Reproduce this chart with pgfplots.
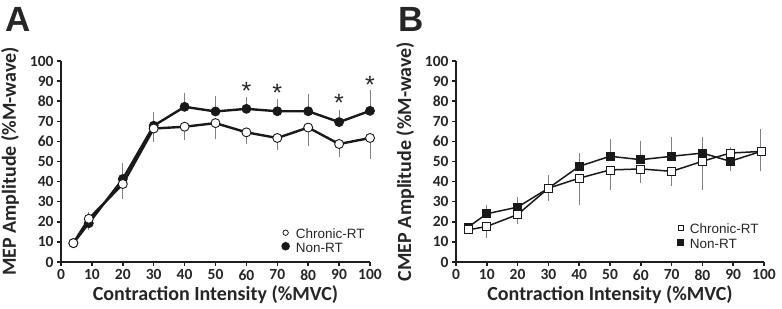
\documentclass[border=0pt]{standalone}
\usepackage{pgfplots}
\usepackage{pgfplotstable}
\pgfplotsset{compat=1.18}
\usepackage{fontspec}
\setmainfont{Carlito}
\newfontfamily\arial{Liberation Sans}

\pgfplotstableread{
x y e
4 9.4 0
9 21.5 5.8
20 38.8 7.7
30 66.4 6.9
40 67.3 6.6
50 69.1 7.9
60 64.5 5.8
70 61.7 6.0
80 66.9 9.0
90 58.7 6.3
100 61.7 10.5
}\chronA
\pgfplotstableread{
x y e
4 9.4 0
9 19.3 5.8
20 41.3 7.8
30 67.8 6.6
40 77.2 7.1
50 74.9 7.7
60 76.2 5.9
70 75.0 6.0
80 75.0 8.5
90 69.6 5.9
100 75.2 10.3
}\nonA
\pgfplotstableread{
x y e
4 16.0 0
10 17.7 5.6
20 23.6 4.9
30 36.7 6.6
40 41.7 13.1
50 45.8 9.9
60 46.3 7.1
70 45.1 7.1
80 50.1 14.2
89 54.2 9.1
99 55.0 9.9
}\chronB
\pgfplotstableread{
x y e
4 17.4 0
10 24.0 4.4
20 27.3 4.9
30 36.7 6.8
40 47.6 6.4
50 52.6 8.6
60 50.9 9.4
70 52.6 9.7
80 54.2 8.1
89 50.1 7.3
99 55.0 11.4
}\nonB

\colorlet{txt}{black!85}
\tikzset{starnode/.style={font=\arial\fontsize{25}{25}\selectfont, text=txt, inner sep=0pt}}
\pgfplotsset{
  panel/.style={
    scale only axis, height=201pt,
    xmin=0, xmax=100, ymin=0, ymax=100,
    xtick={0,10,...,100}, ytick={0,10,...,100},
    axis lines=left,
    axis line style={-, line width=2pt, black!88},
    tick align=outside, major tick length=4pt,
    tick style={line width=1.5pt, black!88},
    /pgf/number format/assume math mode=true,
    tick label style={font=\bfseries\fontsize{15.5}{15.5}\selectfont, text=txt},
    label style={font=\bfseries\fontsize{20}{20}\selectfont, text=txt},
    xlabel style={at={(axis description cs:0.5,-0.164)}, anchor=center},
    ylabel style={at={(axis description cs:-0.165,0.5)}, anchor=center},
    xlabel={Contraction Intensity (\%MVC)},
    clip=false,
    reverse legend,
    legend cell align=left,
    legend style={draw=none, fill=none, font=\arial\fontsize{13.5}{13.5}\selectfont, text=txt,
      nodes={inner sep=0pt, text height=9.7pt, text depth=3.3pt},
      column sep=6pt},
  },
  errs/.style={error bars/.cd, y dir=#1, y explicit, error mark=none,
    error bar style={black!50, line width=0.9pt}},
}

\begin{document}
\begin{tikzpicture}
\useasboundingbox (0pt,0pt) rectangle (782pt,308pt);

\begin{axis}[panel, at={(61pt,46pt)}, anchor=south west, width=309pt,
  ylabel={MEP Amplitude (\%M-wave)},
  legend style={at={(axis cs:70.3,17.5)}, anchor=north west, row sep=0pt}]
\addplot[black!90, line width=2.4pt, mark=*, mark size=4.5pt,
  mark options={fill=black!90, draw=black!90, line width=0.8pt},
  legend image code/.code={\fill[black!90] (0pt,2.8pt) circle (3pt);},
  errs=plus] table[x=x, y=y, y error=e] {\nonA};
\addlegendentry{Non-RT}
\addplot[black!90, line width=2.4pt, mark=*, mark size=4.5pt,
  mark options={fill=white, draw=black!90, line width=0.9pt},
  legend image code/.code={\draw[black!90, fill=white, line width=0.8pt] (0pt,2.8pt) circle (2.7pt);},
  errs=minus] table[x=x, y=y, y error=e] {\chronA};
\addlegendentry{Chronic-RT}
\node[starnode] at (axis cs:60,85) {*};
\node[starnode] at (axis cs:70,84) {*};
\node[starnode] at (axis cs:90,79) {*};
\node[starnode] at (axis cs:100,88) {*};
\end{axis}

\begin{axis}[panel, at={(456pt,46pt)}, anchor=south west, width=308pt,
  ylabel={CMEP Amplitude (\%M-wave)},
  legend style={at={(axis cs:70.8,20)}, anchor=north west, row sep=2pt}]
\addplot[black!90, line width=1.5pt, mark=square*, mark size=4pt,
  mark options={fill=black!90, draw=black!90, line width=0.7pt},
  legend image code/.code={\fill[black!90] (-2.6pt,0.2pt) rectangle (2.6pt,5.4pt);},
  errs=plus] table[x=x, y=y, y error=e] {\nonB};
\addlegendentry{Non-RT}
\addplot[black!90, line width=1.5pt, mark=square*, mark size=4pt,
  mark options={fill=white, draw=black!90, line width=0.8pt},
  legend image code/.code={\draw[black!90, fill=white, line width=0.7pt] (-2.4pt,0.4pt) rectangle (2.4pt,5.2pt);},
  errs=minus] table[x=x, y=y, y error=e] {\chronB};
\addlegendentry{Chronic-RT}
\end{axis}

\node[font=\arial\bfseries\fontsize{35}{35}\selectfont, text=txt, anchor=north west, inner sep=0pt] at (5pt,301pt) {A};
\node[font=\arial\bfseries\fontsize{35}{35}\selectfont, text=txt, anchor=north west, inner sep=0pt] at (398pt,301pt) {B};
\end{tikzpicture}
\end{document}
